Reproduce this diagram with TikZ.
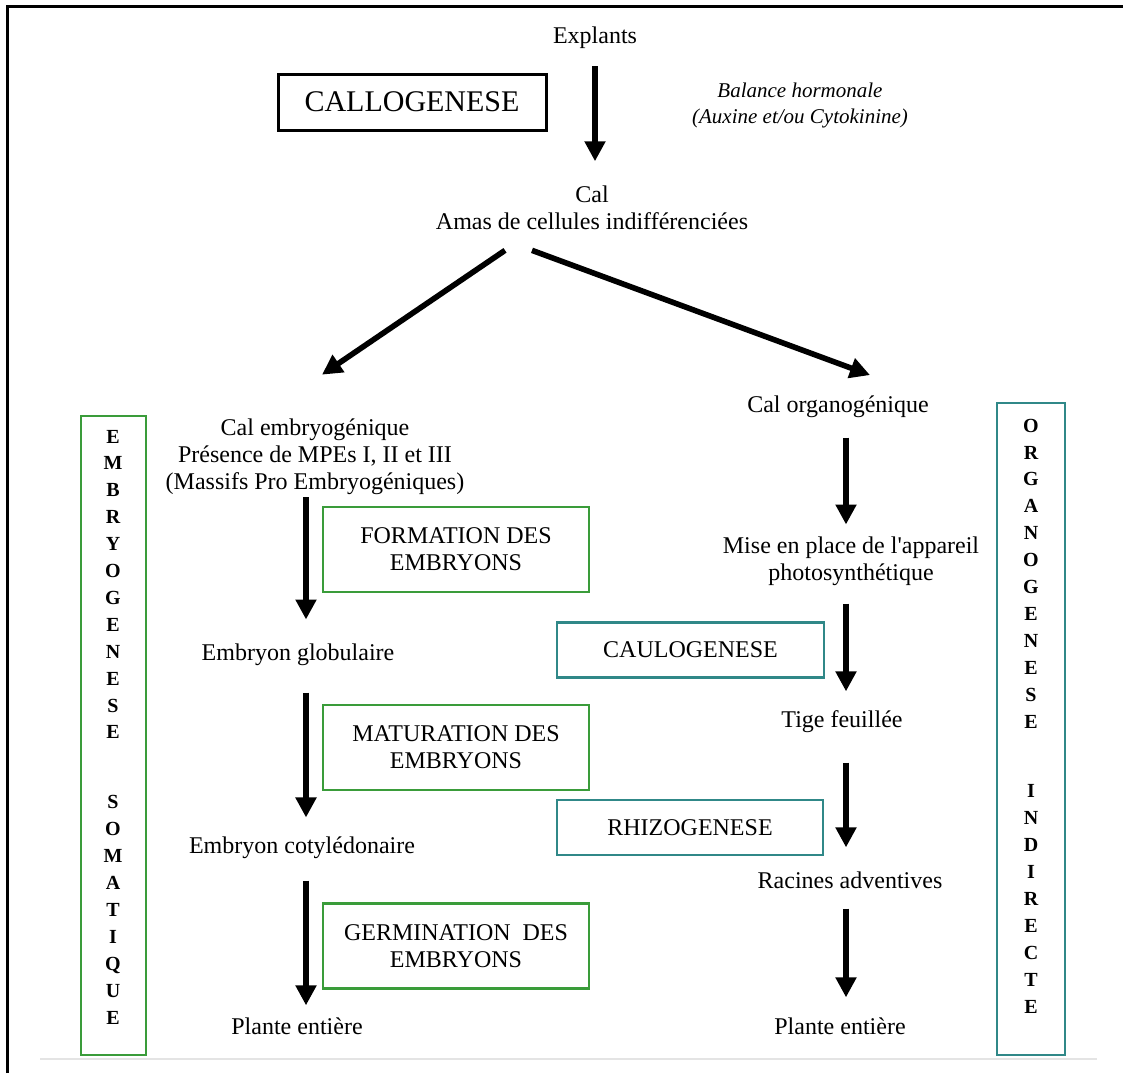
\documentclass[tikz,border=0pt]{standalone}
\usepackage{fontspec}
\setmainfont{Liberation Serif}
\usetikzlibrary{arrows.meta,calc}
\definecolor{EmbGreen}{RGB}{58,156,58}
\definecolor{OrgTeal}{RGB}{48,136,136}
\definecolor{RuleGray}{RGB}{228,228,228}
\tikzset{
  flow/.style={-{Triangle[length=10pt,width=10pt]},line width=2.8pt},
  txt/.style={align=center,inner sep=0pt,font=\fontsize{12}{13.5}\selectfont},
  hint/.style={txt,font=\fontsize{10.5}{13}\selectfont\itshape},
  stage/.style={draw,line width=1.4pt,inner sep=0pt,align=center,font=\fontsize{12}{13.5}\selectfont,minimum width=133pt},
  embstage/.style={stage,draw=EmbGreen,minimum height=42.5pt},
  orgstage/.style={stage,draw=OrgTeal,minimum height=27.5pt},
  sidebox/.style={draw,line width=1.4pt,inner sep=0pt},
  sidetxt/.style={align=center,inner sep=0pt,font=\fontsize{10}{13.45}\selectfont\bfseries}
}
\begin{document}
\begin{tikzpicture}[x=0.5pt,y=-0.5pt]
  \useasboundingbox (0,0) rectangle (1123,1073);
  \draw[line width=1.5pt] (7,1073) -- (7,6) -- (1123,6);
  \draw[RuleGray,line width=1pt] (40,1059) -- (1097,1059);

  \node[txt] (explants) at (595,38) {Explants};
  \node[draw,line width=1.5pt,minimum width=134pt,minimum height=28pt,inner sep=0pt,font=\fontsize{15}{18}\selectfont] (callog) at (412,102) {CALLOGENESE};
  \node[hint] (balance) at (800,105) {Balance hormonale\\(Auxine et/ou Cytokinine)};
  \node[txt] (cal) at (592,208) {Cal\\Amas de cellules indifférenciées};

  \node[txt] (calembryo) at (315,457) {Cal embryogénique\\Présence de MPEs I, II et III\\(Massifs Pro Embryogéniques)};
  \node[txt] (embglob) at (298,654.4) {Embryon globulaire};
  \node[txt] (embcoty) at (302,847.4) {Embryon cotylédonaire};
  \node[txt] (plante1) at (297,1025.8) {Plante entière};
  \node[embstage] (formation) at (456,549.5) {FORMATION DES\\EMBRYONS};
  \node[embstage] (maturation) at (456,747.5) {MATURATION DES\\EMBRYONS};
  \node[embstage] (germination) at (456,946) {GERMINATION\ \ DES\\EMBRYONS};

  \node[txt] (calorgano) at (838,406.4) {Cal organogénique};
  \node[txt] (mise) at (851,560.9) {Mise en place de l\textquotesingle appareil\\photosynthétique};
  \node[txt] (tige) at (842,721.4) {Tige feuillée};
  \node[txt] (racines) at (850,879.8) {Racines adventives};
  \node[txt] (plante2) at (840,1025.8) {Plante entière};
  \node[orgstage,minimum width=133.5pt] (caulog) at (690.5,650) {CAULOGENESE};
  \node[orgstage] (rhizog) at (690,827.5) {RHIZOGENESE};

  \node[sidebox,draw=EmbGreen,minimum width=32.5pt,minimum height=319.5pt] (embbox) at (113.5,735.5) {};
  \node[sidetxt] (embtxt) at (113,727) {E\\M\\B\\R\\Y\\O\\G\\E\\N\\E\\S\\E\\[21.5pt]S\\O\\M\\A\\T\\I\\Q\\U\\E};
  \node[sidebox,draw=OrgTeal,minimum width=34pt,minimum height=326pt] (orgbox) at (1031,729) {};
  \node[sidetxt] (orgtxt) at (1031,716) {O\\R\\G\\A\\N\\O\\G\\E\\N\\E\\S\\E\\[21.5pt]I\\N\\D\\I\\R\\E\\C\\T\\E};

  \coordinate (colL) at (306,0);
  \coordinate (colR) at (846,0);
  \draw[flow,shorten <=8.6pt,shorten >=12.2pt] (explants.south) -- (explants.south |- cal.north);
  \draw[flow] ([xshift=-43.5pt,yshift=-10pt]cal.south) -- ([xshift=3.5pt,yshift=22pt]calembryo.north);
  \draw[flow] ([xshift=-30pt,yshift=-10pt]cal.south) -- ([xshift=16pt,yshift=10pt]calorgano.north);

  \draw[flow,shorten <=0.9pt,shorten >=11.8pt] (calembryo.south -| colL) -- (embglob.north -| colL);
  \draw[flow,shorten <=13.4pt,shorten >=9.3pt] (embglob.south -| colL) -- (embcoty.north -| colL);
  \draw[flow,shorten <=10.9pt,shorten >=5.8pt] (embcoty.south -| colL) -- (plante1.north -| colL);

  \draw[flow,shorten <=10pt,shorten >=5.8pt] (calorgano.south -| colR) -- (mise.north -| colR);
  \draw[flow,shorten <=8.9pt,shorten >=9.3pt] (mise.south -| colR) -- (tige.north -| colR);
  \draw[flow,shorten <=14.9pt,shorten >=11.8pt] (tige.south -| colR) -- (racines.north -| colR);
  \draw[flow,shorten <=10pt,shorten >=9.8pt] (racines.south -| colR) -- (plante2.north -| colR);
\end{tikzpicture}
\end{document}
